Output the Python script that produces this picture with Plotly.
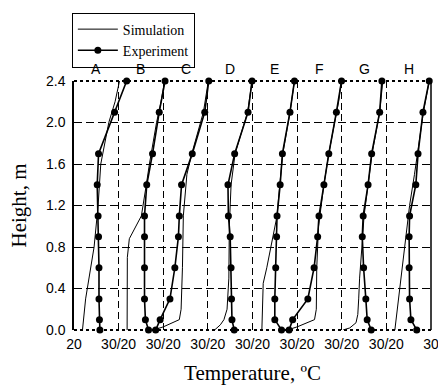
import plotly.graph_objects as go

panels = ["A", "B", "C", "D", "E", "F", "G", "H"]

# Experiment: measured heights (m) and temperatures (deg C) per panel
exp_heights = [0.0, 0.1, 0.3, 0.6, 0.9, 1.1, 1.4, 1.7, 2.1, 2.4]
exp_A = [25.8, 25.7, 25.6, 25.6, 25.5, 25.4, 25.2, 25.5, 29.1, 31.8]
exp_B = [26.7, 26.0, 25.8, 25.8, 25.8, 25.8, 26.3, 27.6, 29.1, 30.4]
exp_C = [18.3, 19.3, 21.5, 22.6, 23.4, 23.6, 24.1, 26.5, 29.3, 30.2]
exp_D = [25.9, 25.4, 25.3, 25.2, 25.0, 24.6, 24.5, 26.0, 29.0, 29.9]
exp_E = [26.5, 25.0, 25.0, 25.2, 25.4, 25.5, 26.2, 26.7, 28.4, 29.4]
exp_F = [18.2, 19.0, 22.4, 23.8, 24.6, 24.9, 26.0, 27.1, 28.8, 29.95]
exp_G = [26.6, 25.7, 25.4, 24.9, 24.6, 24.8, 25.9, 26.7, 28.5, 29.0]
exp_H = [26.8, 25.5, 25.2, 25.1, 25.1, 25.2, 26.6, 27.1, 28.2, 29.6]

# Simulation profiles (heights, temperatures) per panel
sim_h_A = [0.0, 0.3, 0.8, 1.2, 1.6, 2.0, 2.2, 2.4]
sim_T_A = [21.9, 22.6, 24.5, 25.4, 26.0, 27.8, 29.2, 30.2]
sim_h_B = [0.0, 0.7, 0.88, 1.1, 1.4, 1.6, 2.0, 2.2, 2.4]
sim_T_B = [21.9, 21.95, 22.4, 25.1, 26.2, 26.9, 28.5, 29.5, 30.3]
sim_h_C = [0.0, 0.03, 0.1, 0.2, 0.6, 1.1, 1.5, 1.7, 2.1, 2.4]
sim_T_C = [17.8, 20.0, 23.6, 24.0, 24.3, 24.5, 25.3, 26.4, 29.0, 30.1]
sim_h_D = [0.0, 0.05, 0.1, 0.2, 0.5, 1.0, 1.4, 1.7, 2.1, 2.4]
sim_T_D = [21.5, 22.8, 23.6, 24.3, 24.7, 24.8, 25.2, 26.1, 28.9, 29.9]
sim_h_E = [0.0, 0.45, 0.6, 0.9, 1.1, 1.4, 1.7, 2.1, 2.4]
sim_T_E = [22.1, 22.4, 23.2, 24.6, 25.5, 26.1, 26.8, 28.4, 29.4]
sim_h_F = [0.0, 0.03, 0.1, 0.2, 0.6, 1.0, 1.4, 1.7, 2.0, 2.2, 2.4]
sim_T_F = [17.8, 20.0, 23.9, 24.3, 24.4, 24.8, 26.0, 27.1, 28.4, 29.3, 29.9]
sim_h_G = [0.0, 0.02, 0.07, 0.15, 0.3, 0.5, 0.85, 1.1, 1.4, 1.7, 2.1, 2.4]
sim_T_G = [20.3, 21.8, 23.2, 23.6, 23.8, 24.0, 24.6, 25.0, 25.9, 26.8, 28.5, 29.2]
sim_h_H = [0.0, 0.3, 0.65, 0.9, 1.2, 1.5, 1.8, 2.1, 2.4]
sim_T_H = [21.9, 22.7, 23.6, 24.4, 25.2, 26.3, 27.3, 28.3, 29.6]

exp_T = [exp_A, exp_B, exp_C, exp_D, exp_E, exp_F, exp_G, exp_H]
sim_h = [sim_h_A, sim_h_B, sim_h_C, sim_h_D, sim_h_E, sim_h_F, sim_h_G, sim_h_H]
sim_T = [sim_T_A, sim_T_B, sim_T_C, sim_T_D, sim_T_E, sim_T_F, sim_T_G, sim_T_H]

t_min, t_max = 20, 30
span = t_max - t_min
y_ticks = [0.0, 0.4, 0.8, 1.2, 1.6, 2.0, 2.4]
x_tick_text = ["20"] + ["30/20"] * 7 + ["30"]

fig = go.Figure()
for i, name in enumerate(panels):
    off = i * span - t_min
    fig.add_trace(go.Scatter(
        x=[t + off for t in sim_T[i]], y=sim_h[i], mode="lines",
        line=dict(color="black", width=1), name="Simulation",
        showlegend=(i == 0), cliponaxis=False))
for i, name in enumerate(panels):
    off = i * span - t_min
    fig.add_trace(go.Scatter(
        x=[t + off for t in exp_T[i]], y=exp_heights, mode="lines+markers",
        line=dict(color="black", width=1.6),
        marker=dict(color="black", size=7),
        name="Experiment", showlegend=(i == 0), cliponaxis=False))

for i, name in enumerate(panels):
    fig.add_annotation(x=i * span + span / 2, y=1.0, xref="x", yref="paper",
                       text=name, showarrow=False, yanchor="bottom", yshift=2,
                       font=dict(family="Liberation Sans", size=14, color="black"))

n = len(panels)
fig.update_xaxes(
    range=[-0.001, n * span + 0.001], tickvals=[k * span for k in range(n + 1)],
    ticktext=x_tick_text, showgrid=False, zeroline=False, showline=False,
    ticks="", ticklabelstandoff=4, ticklabeloverflow="allow", automargin=False,
    tickfont=dict(family="Liberation Sans", size=14, color="black"),
    minor=dict(tickvals=[k * span for k in range(1, n)], showgrid=True,
               gridcolor="black", gridwidth=1, griddash="7px,4px"),
    title=dict(text="Temperature, ºC", standoff=14,
               font=dict(family="Liberation Serif", size=21, color="black")))
fig.update_yaxes(
    range=[0, 2.4], tickvals=y_ticks, ticktext=[f"{v:.1f}" for v in y_ticks],
    showgrid=False, zeroline=False, showline=True, linecolor="black", linewidth=1.5,
    ticks="", ticklabelstandoff=4, automargin=False,
    tickfont=dict(family="Liberation Sans", size=14, color="black"),
    minor=dict(tickvals=y_ticks[1:-1], showgrid=True, gridcolor="black",
               gridwidth=1, griddash="8px,4px"),
    title=dict(text="Height, m", standoff=14,
               font=dict(family="Liberation Serif", size=21, color="black")))

fig.add_shape(type="line", xref="paper", yref="paper", x0=1, x1=1, y0=0, y1=1,
              line=dict(color="black", width=1.5))
fig.add_shape(type="line", xref="paper", yref="paper", x0=0, x1=1, y0=1, y1=1,
              line=dict(color="black", width=2, dash="dot"))
fig.add_shape(type="line", xref="paper", yref="paper", x0=0, x1=1, y0=0, y1=0,
              line=dict(color="black", width=2, dash="dot"))

fig.update_layout(
    width=438, height=389,
    margin=dict(l=74, r=7, t=81, b=59),
    paper_bgcolor="white", plot_bgcolor="white",
    legend=dict(x=-0.006, y=1.275, xanchor="left", yanchor="top",
                bordercolor="black", borderwidth=1, bgcolor="white",
                font=dict(family="Liberation Serif", size=14, color="black"),
                itemwidth=40, tracegroupgap=0),
)

fig.write_html("out.html")
